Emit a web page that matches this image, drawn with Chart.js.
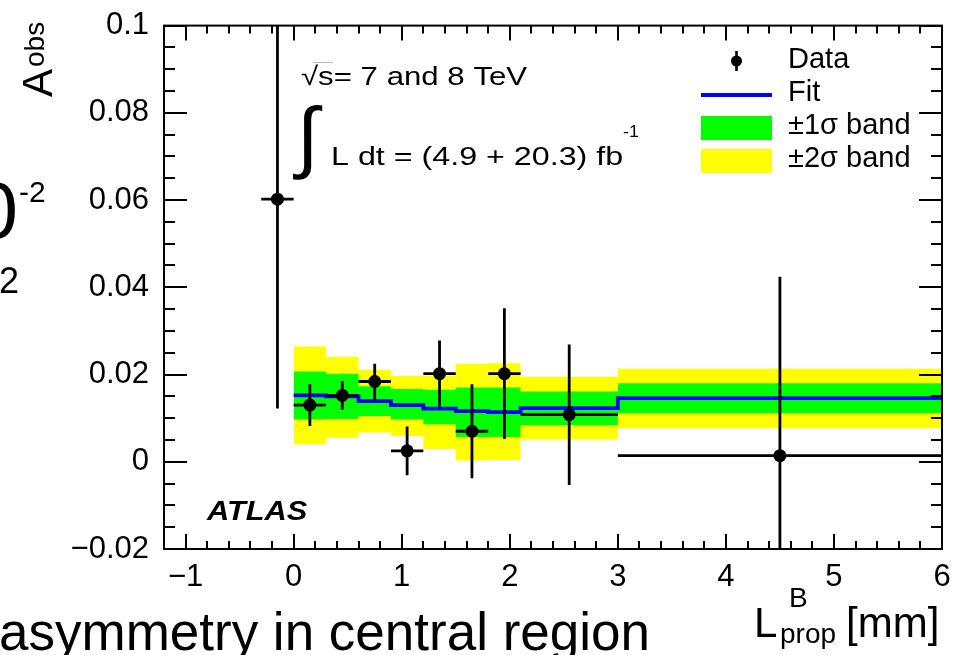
<!DOCTYPE html>
<html>
<head>
<meta charset="utf-8">
<script src="https://cdn.jsdelivr.net/npm/chart.js@4.4.1/dist/chart.umd.min.js"></script>
<style>
  html, body { margin: 0; padding: 0; background: #fff; }
  #wrap { width: 961px; height: 655px; }
</style>
</head>
<body>
<div id="wrap"><canvas id="asymChart" width="961" height="655"></canvas></div>
<script>
// ---- measured points: L_prop bin centre, half width, A_obs, error ----
const dataX    = [-0.15, 0.15, 0.45, 0.75, 1.05, 1.35, 1.65, 1.95, 2.55, 4.5];
const dataXErr = [0.15, 0.15, 0.15, 0.15, 0.15, 0.15, 0.15, 0.15, 0.45, 1.5];
const dataY    = [0.0602, 0.0130, 0.0152, 0.0184, 0.0025, 0.0202, 0.0070, 0.0202, 0.0108, 0.0014];
const dataYErr = [0.048, 0.0048, 0.0033, 0.0041, 0.0056, 0.0076, 0.0108, 0.0150, 0.0161, 0.041];

// ---- fit result per L_prop bin, with the 1 and 2 sigma band edges ----
const binEdges = [0, 0.3, 0.6, 0.9, 1.2, 1.5, 1.8, 2.1, 3.0, 6.0];
const fitVal   = [0.0152, 0.0150, 0.0139, 0.0130, 0.0122, 0.0116, 0.0114, 0.0123, 0.0146];
const band1Up  = [0.0207, 0.0202, 0.0173, 0.0167, 0.0165, 0.0170, 0.0170, 0.0161, 0.0180];
const band1Dn  = [0.0097, 0.0098, 0.0105, 0.0097, 0.0086, 0.0056, 0.0057, 0.0084, 0.0111];
const band2Up  = [0.0264, 0.0241, 0.0211, 0.0197, 0.0197, 0.0225, 0.0226, 0.0195, 0.0213];
const band2Dn  = [0.0040, 0.0055, 0.0067, 0.0059, 0.0029, 0.0003, 0.0004, 0.0051, 0.0077];

// axis ranges / tick steps
const xRange = [-1.2, 6];
const yRange = [-0.02, 0.1];
const xMinorStep = 0.2, xMajorStep = 1;
const yMinorStep = 0.005, yMajorStep = 0.02;

const FONT = '"Liberation Sans", Arial, Helvetica, sans-serif';

const isMultiple = (v, step) => Math.abs(v / step - Math.round(v / step)) < 1e-6;
const minus = s => s.replace('-', '\u2212');

// step curve: one point on each low edge, plus the last high edge
const stepPoints = vals => vals.map((v, i) => ({ x: binEdges[i], y: v }))
    .concat([{ x: binEdges[binEdges.length - 1], y: vals[vals.length - 1] }]);

const dataPoints = dataX.map((x, i) => ({ x, y: dataY[i], ex: dataXErr[i], ey: dataYErr[i] }));

const bandLine = { stepped: true, borderWidth: 0, borderColor: 'transparent', pointRadius: 0, pointHoverRadius: 0 };

// error bars (drawn from the data dataset through the scales)
const errorBars = {
    id: 'errorBars',
    afterDatasetsDraw(chart) {
        const { ctx, chartArea: a, scales: { x, y } } = chart;
        ctx.save();
        ctx.beginPath();
        ctx.rect(a.left, a.top, a.right - a.left, a.bottom - a.top);
        ctx.clip();
        ctx.strokeStyle = '#000';
        ctx.lineWidth = 2.8;
        ctx.beginPath();
        chart.data.datasets[0].data.forEach(p => {
            const px = x.getPixelForValue(p.x), py = y.getPixelForValue(p.y);
            ctx.moveTo(x.getPixelForValue(p.x - p.ex), py);
            ctx.lineTo(x.getPixelForValue(p.x + p.ex), py);
            ctx.moveTo(px, y.getPixelForValue(p.y - p.ey));
            ctx.lineTo(px, y.getPixelForValue(p.y + p.ey));
        });
        ctx.stroke();
        ctx.restore();
    }
};

// ROOT style frame with inward ticks on all four sides
const rootFrame = {
    id: 'rootFrame',
    afterDatasetsDraw(chart) {
        const { ctx, chartArea: a, scales: { x, y } } = chart;
        ctx.save();
        ctx.strokeStyle = '#000';
        ctx.lineWidth = 2;
        ctx.beginPath();
        x.ticks.forEach(t => {
            const px = Math.round(x.getPixelForValue(t.value));
            const len = isMultiple(t.value, xMajorStep) ? 15 : 8;
            ctx.moveTo(px, a.bottom); ctx.lineTo(px, a.bottom - len);
            ctx.moveTo(px, a.top);    ctx.lineTo(px, a.top + len);
        });
        y.ticks.forEach(t => {
            const py = Math.round(y.getPixelForValue(t.value));
            const len = isMultiple(t.value, yMajorStep) ? 23 : 11;
            ctx.moveTo(a.left, py);  ctx.lineTo(a.left + len, py);
            ctx.moveTo(a.right, py); ctx.lineTo(a.right - len, py);
        });
        ctx.stroke();
        ctx.strokeRect(a.left, a.top, a.right - a.left, a.bottom - a.top);
        ctx.restore();
    }
};

// helper: text, optionally stretched horizontally / rotated
function drawText(ctx, str, x, y, size, opts = {}) {
    ctx.save();
    ctx.font = (opts.style || '') + ' ' + size + 'px ' + FONT;
    ctx.fillStyle = opts.color || '#000';
    ctx.textBaseline = 'alphabetic';
    ctx.textAlign = opts.align || 'left';
    ctx.translate(x, y);
    if (opts.rotate) ctx.rotate(opts.rotate);
    ctx.scale(opts.sx || 1, 1);
    ctx.fillText(str, 0, 0);
    ctx.restore();
}

// legend, labels, axis titles
const annotations = {
    id: 'annotations',
    afterDraw(chart) {
        const { ctx } = chart;
        const ds = chart.data.datasets;

        // legend box (top right, inside the frame)
        const symX0 = 701, symX1 = 772, textX = 788;
        const rows = [
            { ds: ds[0], base: 68, kind: 'marker' },
            { ds: ds[1], base: 101, kind: 'line' },
            { ds: ds[3], base: 134, kind: 'box' },
            { ds: ds[5], base: 167, kind: 'box' }
        ];
        rows.forEach(r => {
            ctx.save();
            const mid = r.base - 8;
            if (r.kind === 'marker') {
                const cx = (symX0 + symX1) / 2;
                ctx.fillStyle = '#000';
                ctx.beginPath();
                ctx.arc(cx, mid + 1, 5.5, 0, Math.PI * 2);
                ctx.fill();
                ctx.strokeStyle = '#000';
                ctx.lineWidth = 2.6;
                ctx.beginPath();
                ctx.moveTo(cx, mid - 9); ctx.lineTo(cx, mid + 11);
                ctx.stroke();
            } else if (r.kind === 'line') {
                ctx.strokeStyle = r.ds.borderColor;
                ctx.lineWidth = r.ds.borderWidth;
                ctx.beginPath();
                ctx.moveTo(symX0, mid + 2); ctx.lineTo(symX1, mid + 2);
                ctx.stroke();
            } else {
                ctx.fillStyle = r.ds.backgroundColor;
                ctx.fillRect(symX0, mid - 10, symX1 - symX0, 24);
            }
            ctx.restore();
            drawText(ctx, r.ds.label, textX, r.base, 29);
        });

        // energy / luminosity
        drawText(ctx, '\u221As= 7 and 8 TeV', 301, 85, 26, { sx: 1.2 });
        ctx.save();
        ctx.strokeStyle = '#bbb';
        ctx.lineWidth = 1;
        ctx.beginPath();
        ctx.moveTo(313, 62.5); ctx.lineTo(333, 62.5);
        ctx.stroke();
        ctx.restore();
        drawText(ctx, '\u222B', 297, 163, 79);
        drawText(ctx, 'L dt = (4.9 + 20.3) fb', 331, 165, 26, { sx: 1.24 });
        drawText(ctx, '-1', 623, 137, 17, { sx: 1.05 });

        // ATLAS
        drawText(ctx, 'ATLAS', 207, 520, 28, { style: 'italic bold', sx: 1.1 });

        // y title A_obs (rotated)
        drawText(ctx, 'A', 52, 97, 42, { rotate: -Math.PI / 2 });
        drawText(ctx, 'obs', 44, 67, 28, { rotate: -Math.PI / 2 });

        // x title L^B_prop [mm]
        drawText(ctx, 'L', 754, 637, 42);
        drawText(ctx, 'B', 789, 607, 28);
        drawText(ctx, 'prop', 780, 643, 28);
        drawText(ctx, '[mm]', 846, 637, 42);

        // surrounding slide text cut off by the picture
        drawText(ctx, '10', 18, 238, 80, { align: 'right' });
        drawText(ctx, '-2', 19, 202, 30);
        drawText(ctx, '2', -1, 293, 36);
        drawText(ctx, 'asymmetry in central region', -1, 650, 53);
    }
};

new Chart(document.getElementById('asymChart'), {
    type: 'line',
    data: {
        datasets: [
            {
                label: 'Data',
                data: dataPoints,
                showLine: false,
                pointRadius: 6.5,
                pointHoverRadius: 6.5,
                pointBackgroundColor: '#000',
                pointBorderWidth: 0,
                order: 0
            },
            {
                label: 'Fit',
                data: stepPoints(fitVal),
                stepped: true,
                borderColor: '#0000ff',
                borderWidth: 3.8,
                pointRadius: 0,
                pointHoverRadius: 0,
                fill: false,
                order: 1
            },
            { label: '+1\u03C3', data: stepPoints(band1Up), ...bandLine, fill: false, order: 2 },
            { label: '\u00B11\u03C3 band', data: stepPoints(band1Dn), ...bandLine, fill: 2, backgroundColor: '#00ff00', order: 2 },
            { label: '+2\u03C3', data: stepPoints(band2Up), ...bandLine, fill: false, order: 3 },
            { label: '\u00B12\u03C3 band', data: stepPoints(band2Dn), ...bandLine, fill: 4, backgroundColor: '#ffff00', order: 3 }
        ]
    },
    options: {
        responsive: false,
        animation: false,
        events: [],
        layout: { padding: { left: 0, right: 19, top: 21, bottom: 0 } },
        scales: {
            x: {
                type: 'linear',
                min: xRange[0],
                max: xRange[1],
                grid: { display: false },
                border: { display: false },
                afterFit: s => { s.height = 106; },
                ticks: {
                    stepSize: xMinorStep,
                    autoSkip: false,
                    maxRotation: 0,
                    padding: 2,
                    color: '#000',
                    font: { family: FONT, size: 31 },
                    callback: v => isMultiple(v, xMajorStep) ? minus(String(Math.round(v))) : ''
                }
            },
            y: {
                type: 'linear',
                min: yRange[0],
                max: yRange[1],
                grid: { display: false },
                border: { display: false },
                afterFit: s => { s.width = 164; },
                ticks: {
                    stepSize: yMinorStep,
                    autoSkip: false,
                    padding: 7,
                    color: '#000',
                    font: { family: FONT, size: 31 },
                    callback: v => isMultiple(v, yMajorStep) ? minus(String(Math.round(v * 1000) / 1000)) : ''
                }
            }
        },
        plugins: {
            legend: { display: false },
            tooltip: { enabled: false }
        }
    },
    plugins: [errorBars, rootFrame, annotations]
});
</script>
</body>
</html>
